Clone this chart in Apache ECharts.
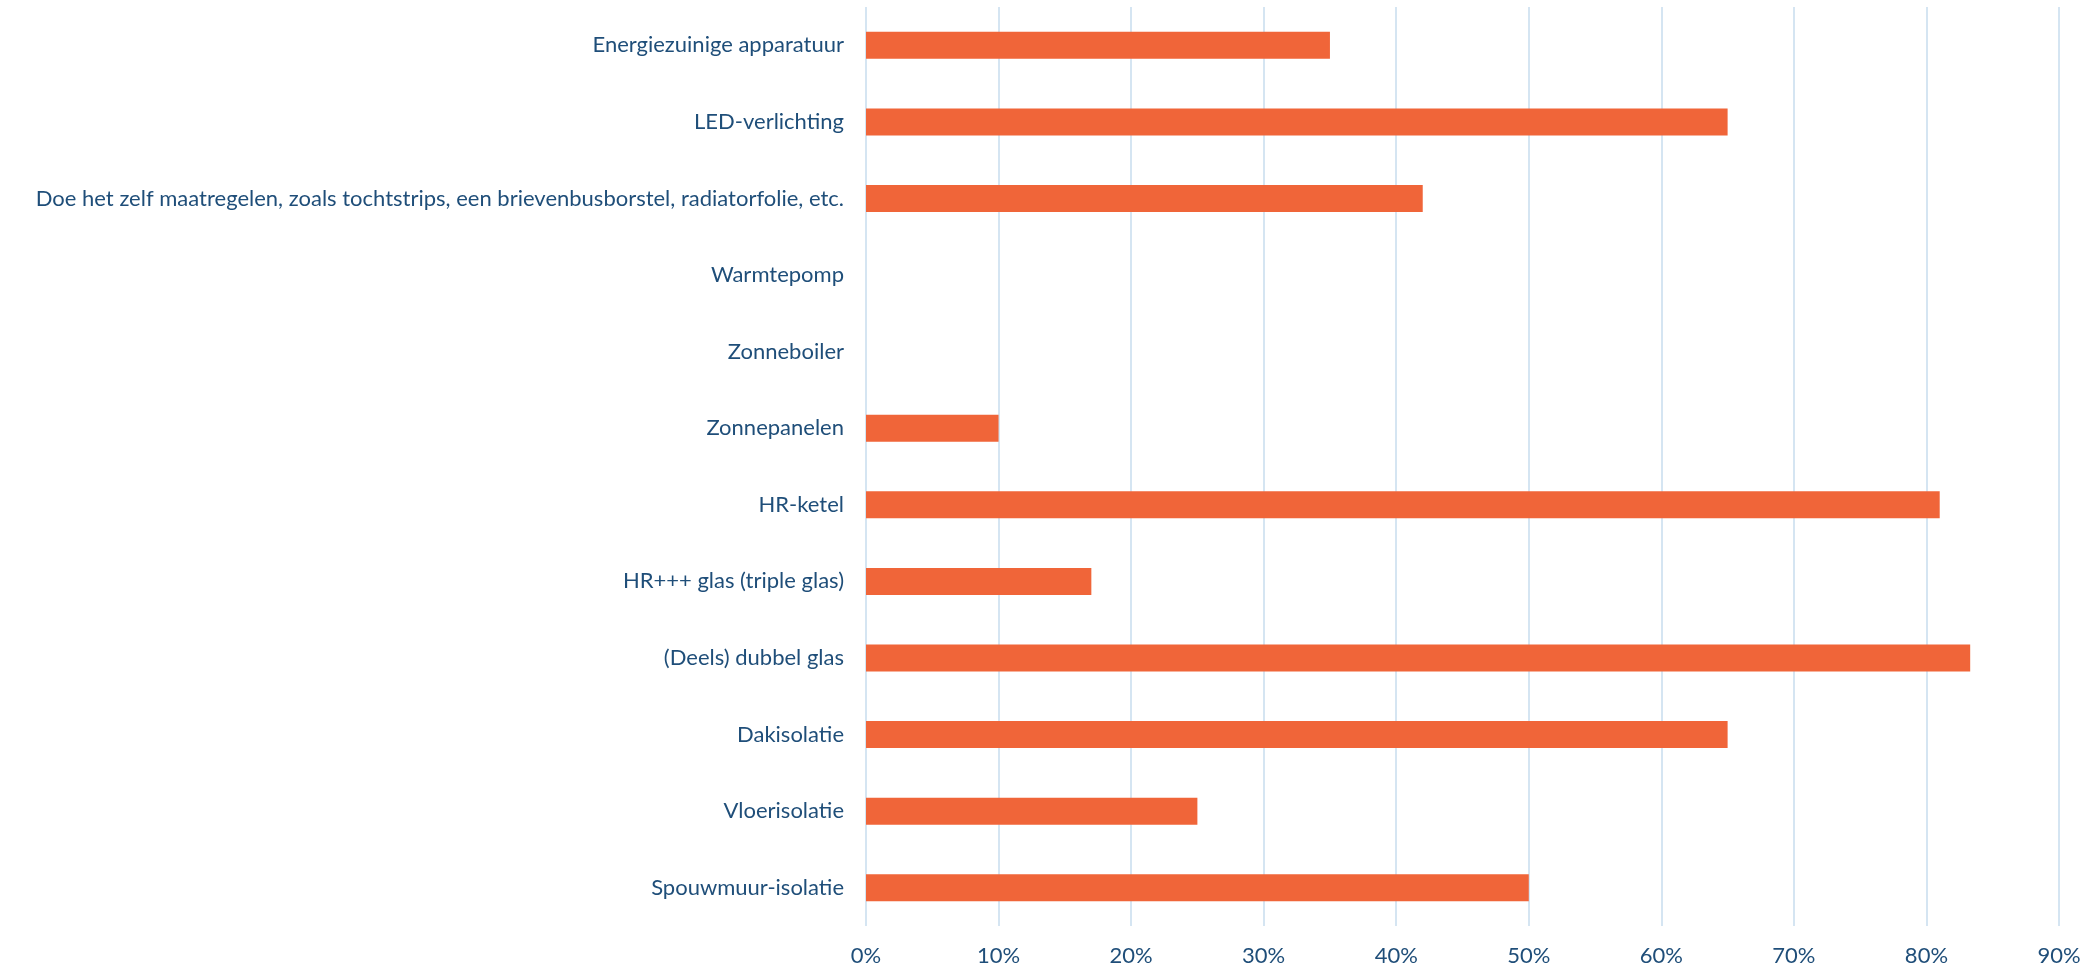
<!DOCTYPE html>
<html>
<head>
<meta charset="utf-8">
<script src="https://cdn.jsdelivr.net/npm/echarts@6/dist/echarts.min.js"></script>
<style>
  html, body { margin: 0; padding: 0; background: #fff; }
  #chart { width: 2093px; height: 968px; }
</style>
</head>
<body>
<div id="chart"></div>
<script>
// maatregelen, van boven naar beneden
const categories = [
  'Energiezuinige apparatuur',
  'LED-verlichting',
  'Doe het zelf maatregelen, zoals tochtstrips, een brievenbusborstel, radiatorfolie, etc.',
  'Warmtepomp',
  'Zonneboiler',
  'Zonnepanelen',
  'HR-ketel',
  'HR+++ glas (triple glas)',
  '(Deels) dubbel glas',
  'Dakisolatie',
  'Vloerisolatie',
  'Spouwmuur-isolatie'
]
// aandeel in procent
const values = [35, 65, 42, 0, 0, 10, 81, 17, 83.3, 65, 25, 50]
const xTicks = [0, 10, 20, 30, 40, 50, 60, 70, 80, 90]

const textColor = '#1F4E79'
const gridColor = '#D5E5F2'
const fontFamily = 'Lato, "Open Sans", sans-serif'

const chart = echarts.init(document.getElementById('chart'))
chart.setOption({
  animation: false,
  grid: { left: 866, right: 34, top: 7, bottom: 42, containLabel: false },
  xAxis: {
    type: 'value',
    min: xTicks[0],
    max: xTicks[xTicks.length - 1],
    interval: xTicks[1] - xTicks[0],
    axisLine: { show: false },
    axisTick: { show: false },
    splitLine: { show: true, lineStyle: { color: gridColor, width: 2 } },
    axisLabel: {
      formatter: '{value}%',
      color: textColor,
      fontSize: 22,
      fontFamily: fontFamily,
      margin: 19
    }
  },
  yAxis: {
    type: 'category',
    inverse: true,
    data: categories,
    axisLine: { show: false },
    axisTick: { show: false },
    splitLine: { show: false },
    axisLabel: {
      color: textColor,
      fontSize: 22,
      fontFamily: fontFamily,
      margin: 22
    }
  },
  series: [
    {
      type: 'bar',
      data: values,
      barWidth: 27,
      itemStyle: { color: '#F06539' }
    }
  ]
})
</script>
</body>
</html>
